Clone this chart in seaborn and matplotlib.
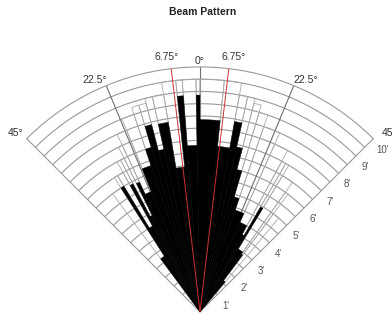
import numpy as np
import matplotlib
matplotlib.use("Agg")
import matplotlib.pyplot as plt
import seaborn as sns

# ---- data (angles in degrees, ranges in feet) ----
bin_start = [-36.5, -32.5, -31.2, -28.9, -27.6, -26.3, -25.0, -22.0, -18.5, -16.5,
             -14.5, -12.5, -9.5, -6.0, -4.4, -1.0, 0.0, 6.0, 10.3, 12.5,
             14.5, 16.5, 19.0, 24.0, 28.5, 30.0, 31.2, 35.5, 36.8]
bin_end = [-32.5, -31.2, -28.9, -27.6, -26.3, -25.0, -22.0, -18.5, -16.5, -14.5,
           -12.5, -9.5, -6.0, -4.4, -1.0, 0.0, 6.0, 10.3, 12.5, 14.5,
           16.5, 19.0, 24.0, 28.5, 30.0, 31.2, 35.5, 36.8, 40.0]
return_range = [2.7, 6.0, 4.0, 5.9, 4.4, 5.85, 5.3, 6.3, 7.0, 7.9,
                6.8, 7.85, 5.95, 8.85, 6.8, 8.85, 7.85, 6.8, 7.9, 6.9,
                6.0, 4.9, 4.4, 4.0, 3.6, 4.95, 3.0, 2.9, 1.6]
cell_outline = [6.0, 6.5, 6.5, 7.0, 7.0, 7.5, 8.0, 8.5, 8.8, 8.8,
                9.0, 9.0, 9.5, 9.5, 9.5, 9.5, 9.5, 9.5, 9.0, 9.0,
                8.8, 8.5, 8.0, 7.5, 7.0, 7.0, 6.5, 6.0, 5.0]

angle_ticks = [-22.5, 0.0, 22.5]
beam_edges = [-6.75, 6.75]
range_ticks = [1, 2, 3, 4, 5, 6, 7, 8, 9, 10]
ring_step = 0.5
max_range = 10

sns.set_theme(style="white")
plt.rcParams["font.family"] = ["Liberation Sans", "DejaVu Sans"]

fig = plt.figure(figsize=(3.92, 3.2), dpi=100)
ax = fig.add_axes([-44.6 / 392, -42.7 / 320, 489.2 / 392, 346.5 / 320], projection="polar")
ax.set_theta_zero_location("N")
ax.set_theta_direction(-1)
ax.set_thetamin(-45)
ax.set_thetamax(45)
ax.set_ylim(0, max_range)

grid_col = "#999999"
ax.set_yticks([])
ax.set_xticks(np.deg2rad(angle_ticks))
ax.set_xticklabels([])
ax.xaxis.grid(True, color="#6e6e6e", lw=0.8)
for sp in ax.spines.values():
    sp.set_color(grid_col)
    sp.set_linewidth(0.8)

# range rings every half foot
arc = np.deg2rad(np.linspace(-45, 45, 200))
for r in np.arange(ring_step, max_range, ring_step):
    ax.plot(arc, np.full_like(arc, r), color=grid_col, lw=0.8, zorder=0.5)

starts = np.deg2rad(bin_start)
widths = np.deg2rad(np.array(bin_end) - np.array(bin_start))

# light cell outlines behind the returns
ax.bar(starts, cell_outline, width=widths, align="edge", facecolor="none",
       edgecolor="#aaaaaa", linewidth=0.6, zorder=1)
# black returns
ax.bar(starts, return_range, width=widths, align="edge", color="black",
       edgecolor="black", linewidth=0.3, zorder=3)

# beam edges in red
for a in beam_edges:
    ax.plot([np.deg2rad(a)] * 2, [0, max_range], color="#d03030", lw=0.7, zorder=4)

# angle labels
lab_col = "#333333"
ax.text(0, 10.25, "0°", ha="center", va="center", fontsize=7.5, color=lab_col)
ax.text(np.deg2rad(-7.4), 10.5, "6.75°", ha="center", va="center", fontsize=7.5, color=lab_col)
ax.text(np.deg2rad(7.4), 10.5, "6.75°", ha="center", va="center", fontsize=7.5, color=lab_col)
ax.text(np.deg2rad(-24.5), 10.4, "22.5°", ha="center", va="center", fontsize=7.5, color=lab_col)
ax.text(np.deg2rad(24.5), 10.4, "22.5°", ha="center", va="center", fontsize=7.5, color=lab_col)
ax.text(np.deg2rad(-45.8), 10.5, "45°", ha="center", va="center", fontsize=7.5, color=lab_col)
ax.text(np.deg2rad(46.3), 10.6, "45", ha="center", va="center", fontsize=7.5, color=lab_col)

# range labels along the right edge
for k in range_ticks:
    ax.annotate(f"{k}'", xy=(np.deg2rad(45), k), xytext=(6.5, -8),
                textcoords="offset points", ha="center", va="center",
                fontsize=7, color="#555555", annotation_clip=False)

fig.text(0.518, 1 - 12 / 320, "Beam Pattern", ha="center", va="center",
         fontsize=7.5, fontweight="bold", color="#222222")

fig.savefig("out.png", dpi=100)
